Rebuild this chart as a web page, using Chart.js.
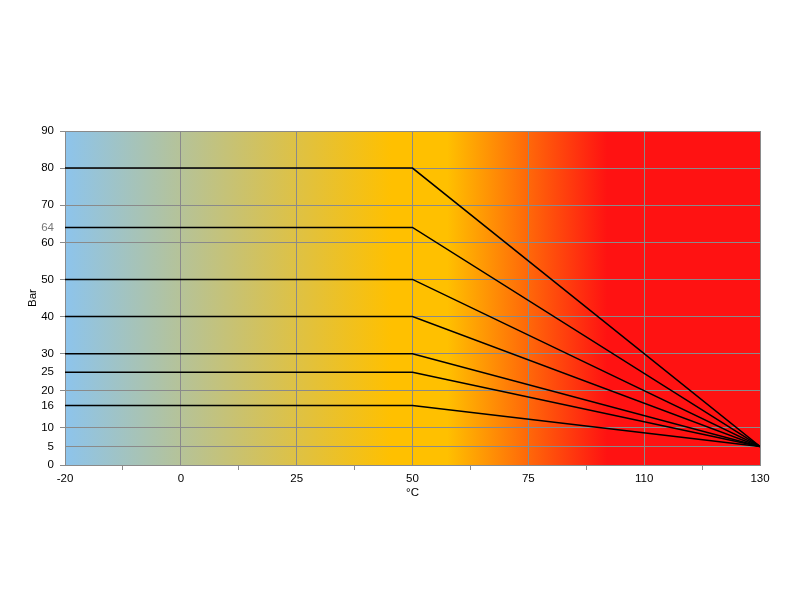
<!DOCTYPE html>
<html><head>
<meta charset="utf-8">
<script src="https://cdn.jsdelivr.net/npm/chart.js@4"></script>
<style>html,body{margin:0;padding:0;background:#fff}</style>
</head>
<body>
<canvas id="c" width="800" height="600"></canvas>
<script>
const xLabels = ['-20','0','25','50','75','110','130'];
const yTickValues = [0,5,10,16,20,25,30,40,50,60,64,70,80,90];
const pressures = [80,64,50,40,30,25,16];
const startTemp = '-20', kneeTemp = '50', endTemp = '130';
const endPressure = 5;

const xi = t => xLabels.indexOf(t);
const datasets = pressures.map(p => ({
  data: [{x: xi(startTemp), y: p}, {x: xi(kneeTemp), y: p}, {x: xi(endTemp), y: endPressure}],
  borderColor: '#000', borderWidth: 1.5, pointRadius: 0, tension: 0, fill: false
}));

const bgPlugin = {
  id: 'bg',
  beforeDraw(chart) {
    const {ctx, chartArea: a} = chart;
    const g = ctx.createLinearGradient(a.left, 0, a.right, 0);
    g.addColorStop(0, '#8DC4EC');
    g.addColorStop(0.47, '#FFC000');
    g.addColorStop(0.55, '#FFC000');
    g.addColorStop(0.78, '#FF1212');
    g.addColorStop(1, '#FF1212');
    ctx.save();
    ctx.fillStyle = g;
    ctx.fillRect(a.left, a.top, a.right - a.left, a.bottom - a.top);
    ctx.restore();
  }
};

const font = {family: 'Liberation Sans, Arial, sans-serif', size: 11.5};
new Chart(document.getElementById('c'), {
  type: 'line',
  data: {datasets},
  plugins: [bgPlugin],
  options: {
    responsive: false, animation: false, devicePixelRatio: 1,
    layout: {padding: {left: 0, top: 131, right: 40, bottom: 100}},
    plugins: {legend: {display: false}, tooltip: {enabled: false}},
    scales: {
      x: {
        type: 'linear', min: 0, max: xLabels.length - 1,
        afterBuildTicks(s) { const t = []; for (let v = 0; v <= xLabels.length - 1; v += 0.5) t.push({value: v}); s.ticks = t; },
        afterFit(s) { s.height = 35; },
        ticks: {autoSkip: false, maxRotation: 0, color: '#000', font, padding: 2,
          callback: v => Number.isInteger(v) ? xLabels[v] : ''},
        grid: {
          color: c => Number.isInteger(c.tick && c.tick.value) ? '#8a8a8a' : 'rgba(0,0,0,0)',
          tickColor: c => Number.isInteger(c.tick && c.tick.value) ? 'rgba(0,0,0,0)' : '#8a8a8a',
          tickLength: 5, lineWidth: 1
        },
        border: {color: '#8a8a8a', width: 1},
        title: {display: true, text: '°C', color: '#000', font, padding: {top: 0, bottom: 0}}
      },
      y: {
        min: 0, max: 90,
        afterBuildTicks(s) { s.ticks = yTickValues.map(v => ({value: v})); },
        afterFit(s) { s.width = 65; },
        ticks: {autoSkip: false, color: c => c.tick.value === 64 ? '#777' : '#000', font, padding: 6},
        grid: {
          color: c => (c.tick && (c.tick.value % 10 === 0 || c.tick.value === 5)) ? '#8a8a8a' : 'rgba(0,0,0,0)',
          tickColor: c => (c.tick && c.tick.value % 10 === 0) ? '#8a8a8a' : 'rgba(0,0,0,0)',
          tickLength: 5, lineWidth: 1
        },
        border: {color: '#8a8a8a', width: 1},
        title: {display: true, text: 'Bar', color: '#000', font, padding: {top: 26, bottom: 0}}
      }
    }
  }
});
</script>
</body></html>
